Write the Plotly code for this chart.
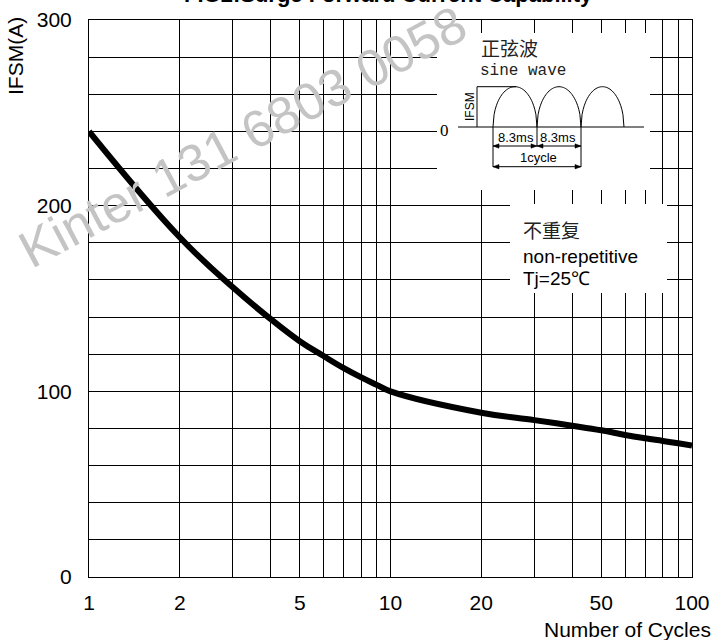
import numpy as np
import plotly.graph_objects as go

# ---- data ----
cycles = [1, 2, 3, 4, 5, 6, 7, 8, 9, 10, 20, 30, 40, 50, 60, 70, 80, 90, 100]
ifsm = [240, 183, 156, 139, 127, 119, 112.5, 107.5, 103.5, 100,
        88.5, 84.5, 81.5, 79, 76.5, 74.7, 73.3, 72, 70.8]
x_ticks = [1, 2, 5, 10, 20, 50, 100]
x_minor = [3, 4, 6, 7, 8, 9, 30, 40, 60, 70, 80, 90]
y_ticks = [0, 100, 200, 300]

W, H = 722, 640
ML, MR, MT, MB = 89, 30, 20, 63
PW, PH = W - ML - MR, H - MT - MB


def px(x):
    return (x - ML) / PW


def py(y):
    return 1 - (y - MT) / PH


FONT = "Liberation Sans, Arial, sans-serif"
CJK = "Noto Sans CJK SC"

fig = go.Figure()
fig.add_trace(go.Scatter(
    x=cycles, y=ifsm, mode="lines",
    line=dict(color="black", width=6, shape="spline", smoothing=1.2),
    hoverinfo="skip", showlegend=False))

fig.update_layout(
    width=W, height=H,
    margin=dict(l=ML, r=MR, t=MT, b=MB, autoexpand=False),
    paper_bgcolor="white", plot_bgcolor="white",
    font=dict(family=FONT, size=21, color="black"),
    showlegend=False,
)
fig.update_xaxes(
    type="log", range=[0, 2], automargin=False,
    tickmode="array", tickvals=x_ticks, ticktext=[str(v) for v in x_ticks],
    ticks="", ticklabelstandoff=7,
    showgrid=True, gridcolor="black", gridwidth=1,
    minor=dict(tickmode="array", tickvals=x_minor, showgrid=True,
               gridcolor="black", gridwidth=1, ticks=""),
    showline=True, linecolor="black", linewidth=1, mirror=True,
    zeroline=False, tickfont=dict(size=21),
)
fig.update_yaxes(
    range=[0, 300], automargin=False,
    tickmode="array", tickvals=y_ticks,
    ticks="", ticklabelstandoff=12,
    showgrid=True, gridcolor="black", gridwidth=1,
    minor=dict(dtick=20, showgrid=True, gridcolor="black", gridwidth=1, ticks=""),
    showline=True, linecolor="black", linewidth=1, mirror=True,
    zeroline=False, tickfont=dict(size=21),
)

shapes = []
# white boxes for the inset notes
shapes.append(dict(type="rect", xref="paper", yref="paper",
                   x0=px(437), x1=px(650), y0=py(190), y1=py(33),
                   fillcolor="white", line=dict(width=0), layer="above"))
shapes.append(dict(type="rect", xref="paper", yref="paper",
                   x0=px(510), x1=px(667), y0=py(293), y1=py(204),
                   fillcolor="white", line=dict(width=0), layer="above"))


def seg(x0, y0, x1, y1, w=1):
    shapes.append(dict(type="line", xref="paper", yref="paper",
                       x0=px(x0), y0=py(y0), x1=px(x1), y1=py(y1),
                       line=dict(color="black", width=w), layer="above"))


def tri(tipx, tipy, direction):
    L, h = 6, 2.2
    bx = tipx - L * direction
    path = (f"M {px(tipx)} {py(tipy)} L {px(bx)} {py(tipy - h)} "
            f"L {px(bx)} {py(tipy + h)} Z")
    shapes.append(dict(type="path", xref="paper", yref="paper", path=path,
                       fillcolor="black", line=dict(color="black", width=0.5),
                       layer="above"))


base_y, peak_y = 127, 86.7
seg(458, base_y, 644, base_y)
seg(477, peak_y, 477, base_y)
seg(477, peak_y, 516, peak_y)
# humps of the sine-wave sketch
for a, b in [(493, 537), (537, 581), (581, 624)]:
    t = np.linspace(0, 1, 41)
    xs = a + (b - a) * t
    ys = base_y - (base_y - peak_y) * np.sqrt(np.clip(1 - (2 * t - 1) ** 2, 0, 1))
    path = "M " + " L ".join(f"{px(x):.5f} {py(y):.5f}" for x, y in zip(xs, ys))
    shapes.append(dict(type="path", xref="paper", yref="paper", path=path,
                       line=dict(color="black", width=1), layer="above"))
# dimension lines
seg(493, base_y, 493, 167)
seg(537, base_y, 537, 146)
seg(581, base_y, 581, 167)
seg(493, 146, 581, 146)
seg(493, 166.7, 581, 166.7)
tri(493, 146, -1)
tri(537, 146, 1)
tri(537, 146, -1)
tri(581, 146, 1)
tri(493, 166.7, -1)
tri(581, 166.7, 1)
fig.update_layout(shapes=shapes)

ann = []


def text(s, x, y, size, family=FONT, xanchor="center", yanchor="middle",
         angle=0, color="black", bold=False):
    ann.append(dict(text=(f"<b>{s}</b>" if bold else s), xref="paper", yref="paper",
                    x=px(x), y=py(y), xanchor=xanchor, yanchor=yanchor,
                    showarrow=False, textangle=angle,
                    font=dict(family=family, size=size, color=color)))


# watermark
text("Kinter 131 6803 0058", 242, 137, 52, color="#c4c4c4", angle=-28)
# title (cut at top in the reference)
text("FIG2:Surge Forward Current Capability", 388, 9, 22, yanchor="bottom", bold=True)
# axis titles
text("IFSM(A)", 15, 56, 21, angle=-90)
text("Number of Cycles", 713, 629, 21, xanchor="right")
# inset notes
text("正弦波", 479, 47.5, 19, family=CJK, xanchor="left", color="#222222")
text("sine wave", 478, 71.5, 16, family="Liberation Mono, monospace", xanchor="left",
     color="#222222")
text("0", 444, 130, 17, family="Liberation Serif, serif")
text("IFSM", 470, 107, 12, angle=-90)
text("8.3ms", 515.5, 137.5, 13)
text("8.3ms", 558, 137.5, 13)
text("1cycle", 538, 157, 13)
text("不重复", 521, 229.5, 19, family=CJK, xanchor="left", color="#222222")
text("non-repetitive", 521, 256, 19, xanchor="left")
text("Tj=25℃", 521, 278.5, 19, xanchor="left")
fig.update_layout(annotations=ann)

fig.write_html("out.html",
               config={"displayModeBar": False},
               post_script="document.body.style.margin='0';"
                           "document.body.style.overflow='hidden';")
